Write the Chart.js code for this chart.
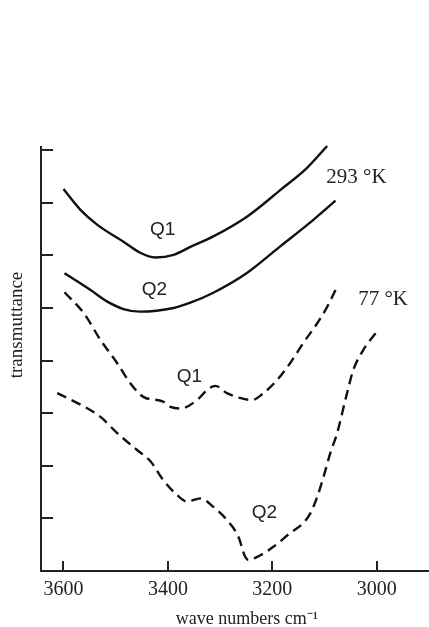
<!DOCTYPE html>
<html>
<head>
<meta charset="utf-8">
<script src="https://cdn.jsdelivr.net/npm/chart.js@4"></script>
<style>
  html, body { margin: 0; padding: 0; background: #fff; }
  #wrap { width: 429px; height: 627px; position: relative; }
</style>
</head>
<body>
<div id="wrap"><canvas id="spectra"></canvas></div>
<script>
// wave numbers (cm-1) and transmittance levels
const warmQ1Wave = [3600, 3567, 3535, 3485, 3453, 3424, 3389, 3357, 3313, 3248, 3185, 3134, 3095];
const warmQ1Level = [7.26, 6.86, 6.58, 6.26, 6.05, 5.96, 6.01, 6.16, 6.36, 6.74, 7.24, 7.66, 8.08];

const warmQ2Wave = [3598, 3548, 3516, 3485, 3453, 3389, 3357, 3313, 3248, 3185, 3122, 3079];
const warmQ2Level = [5.66, 5.34, 5.12, 4.98, 4.93, 5.00, 5.10, 5.29, 5.67, 6.17, 6.67, 7.04];

const coldQ1Wave = [3598, 3561, 3529, 3497, 3472, 3447, 3409, 3395, 3376, 3344, 3325, 3309, 3287, 3262, 3239, 3217, 3191, 3166, 3141, 3114, 3095, 3079];
const coldQ1Level = [5.30, 4.90, 4.39, 3.95, 3.57, 3.31, 3.22, 3.12, 3.09, 3.25, 3.44, 3.52, 3.38, 3.29, 3.25, 3.38, 3.63, 3.95, 4.33, 4.71, 5.02, 5.34];

const coldQ2Wave = [3612, 3567, 3529, 3497, 3459, 3433, 3409, 3382, 3363, 3338, 3313, 3287, 3265, 3252, 3246, 3223, 3198, 3166, 3141, 3127, 3114, 3102, 3089, 3076, 3057, 3045, 3026, 3000];
const coldQ2Level = [3.38, 3.16, 2.93, 2.62, 2.30, 2.08, 1.73, 1.44, 1.32, 1.38, 1.22, 0.97, 0.65, 0.27, 0.21, 0.30, 0.46, 0.72, 0.91, 1.10, 1.41, 1.79, 2.24, 2.62, 3.38, 3.82, 4.20, 4.55];

const xTicks = [3600, 3400, 3200, 3000];
const yTicks = [1, 2, 3, 4, 5, 6, 7, 8];

// curve labels, placed in data units
const notes = [
  { text: "Q1", wave: 3410, level: 6.48, font: "19px 'Liberation Sans', sans-serif" },
  { text: "Q2", wave: 3426, level: 5.34, font: "19px 'Liberation Sans', sans-serif" },
  { text: "Q1", wave: 3359, level: 3.69, font: "19px 'Liberation Sans', sans-serif" },
  { text: "Q2", wave: 3215, level: 1.10, font: "19px 'Liberation Sans', sans-serif" },
  { text: "293 °K", wave: 3039, level: 7.49, font: "21px 'Liberation Serif', serif" },
  { text: "77 °K", wave: 2988, level: 5.17, font: "21px 'Liberation Serif', serif" }
];

function pairs(xs, ys) {
  return xs.map((v, i) => ({ x: v, y: ys[i] }));
}

function curve(xs, ys, dashed) {
  return {
    data: pairs(xs, ys),
    borderColor: "#111",
    borderWidth: 2.4,
    borderDash: dashed ? [10, 6] : [],
    pointRadius: 0,
    cubicInterpolationMode: "monotone",
    fill: false,
    clip: false
  };
}

const decor = {
  id: "decor",
  afterDraw(chart) {
    const { ctx, chartArea, scales } = chart;
    const x = scales.x, y = scales.y;
    ctx.save();
    ctx.strokeStyle = "#222";
    ctx.lineWidth = 2;
    // inward tick marks
    xTicks.forEach(v => {
      const px = Math.round(x.getPixelForValue(v));
      ctx.beginPath();
      ctx.moveTo(px, chartArea.bottom);
      ctx.lineTo(px, chartArea.bottom - 10);
      ctx.stroke();
    });
    yTicks.forEach(v => {
      const py = Math.round(y.getPixelForValue(v));
      ctx.beginPath();
      ctx.moveTo(chartArea.left, py);
      ctx.lineTo(chartArea.left + 12, py);
      ctx.stroke();
    });
    // curve labels
    ctx.fillStyle = "#222";
    ctx.textAlign = "center";
    ctx.textBaseline = "middle";
    notes.forEach(n => {
      ctx.font = n.font;
      ctx.fillText(n.text, x.getPixelForValue(n.wave), y.getPixelForValue(n.level));
    });
    // axis titles
    ctx.font = "18px 'Liberation Serif', serif";
    ctx.fillText("wave numbers cm\u207B\u00B9", 247, 619);
    ctx.font = "19px 'Liberation Serif', serif";
    ctx.translate(17, 325);
    ctx.rotate(-Math.PI / 2);
    ctx.fillText("transmuttance", 0, 0);
    ctx.restore();
  }
};

new Chart(document.getElementById("spectra").getContext("2d"), {
  type: "line",
  data: {
    datasets: [
      curve(warmQ1Wave, warmQ1Level, false),
      curve(warmQ2Wave, warmQ2Level, false),
      curve(coldQ1Wave, coldQ1Level, true),
      curve(coldQ2Wave, coldQ2Level, true)
    ]
  },
  options: {
    responsive: true,
    maintainAspectRatio: false,
    animation: false,
    devicePixelRatio: 1,
    layout: { padding: { top: 147, left: 0, right: 0, bottom: 0 } },
    plugins: {
      legend: { display: false },
      tooltip: { enabled: false },
      title: { display: false }
    },
    scales: {
      x: {
        type: "linear",
        reverse: true,
        min: 2900,
        max: 3643,
        afterBuildTicks: s => { s.ticks = xTicks.map(v => ({ value: v })); },
        afterFit: s => { s.height = 56; },
        grid: { display: false, drawTicks: false },
        border: { display: true, color: "#222", width: 2 },
        ticks: {
          color: "#222",
          padding: 7,
          maxRotation: 0,
          callback: v => String(v),
          font: { family: "'Liberation Serif', serif", size: 20 }
        }
      },
      y: {
        type: "linear",
        min: 0,
        max: 8.06,
        afterBuildTicks: s => { s.ticks = yTicks.map(v => ({ value: v })); },
        afterFit: s => { s.width = 41; },
        grid: { display: false, drawTicks: false },
        border: { display: true, color: "#222", width: 2 },
        ticks: { display: false }
      }
    }
  },
  plugins: [decor]
});
</script>
</body>
</html>
